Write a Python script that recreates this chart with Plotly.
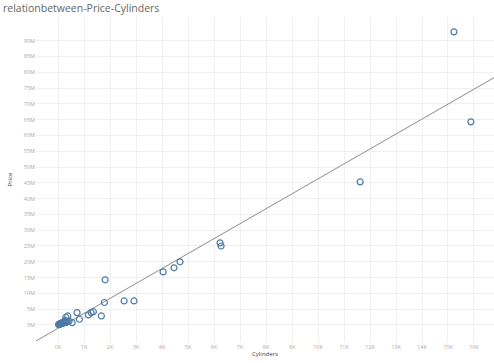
import numpy as np
import plotly.graph_objects as go

cylinders = [15230, 15880, 11620, 6230, 6270, 4690, 4460, 4040, 1810, 1780,
             2540, 2920, 1665, 1358, 1270, 1165, 730, 373, 296, 270, 820, 540,
             20, 40, 60, 90, 120, 150, 190, 230, 280, 350, 420, 80, 170, 300]
price_m = [92.8, 64.3, 45.3, 26.0, 25.0, 20.0, 18.1, 16.8, 14.3, 7.1,
           7.6, 7.6, 2.85, 4.2, 3.9, 3.17, 3.9, 2.85, 2.44, 1.36, 1.8, 0.73,
           0.1, 0.3, 0.2, 0.5, 0.6, 0.4, 0.8, 0.9, 1.1, 1.0, 1.2, 0.2, 0.5, 0.7]
price = [p * 1e6 for p in price_m]

x_ticks = list(range(0, 17000, 1000))
x_labels = [f"{v // 1000}K" for v in x_ticks]
y_ticks = [v * 1e6 for v in range(0, 95, 5)]
y_labels = [f"{v}M" for v in range(0, 95, 5)]

x_range = [-850, 16770]
y_range = [-5.4e6, 97.5e6]

slope, intercept = np.polyfit(cylinders, price, 1)
tx = np.array(x_range, dtype=float)
ty = slope * tx + intercept

fig = go.Figure()
fig.add_trace(go.Scatter(x=tx, y=ty, mode="lines",
                         line=dict(color="#8c8c8c", width=1), hoverinfo="skip"))
fig.add_trace(go.Scatter(x=cylinders, y=price, mode="markers",
                         marker=dict(symbol="circle-open", size=6, color="#4e79a7",
                                     line=dict(width=1.2, color="#4e79a7"))))

fig.update_layout(
    width=494, height=363,
    margin=dict(l=36, r=0, t=17, b=21),
    paper_bgcolor="white", plot_bgcolor="white",
    showlegend=False,
    font=dict(family="Open Sans", color="#999999"),
    title=dict(text="relationbetween-Price-Cylinders", x=0.006, xanchor="left",
               y=0.978, yanchor="middle",
               font=dict(size=10.5, color="#666666", family="Open Sans")),
)
fig.update_xaxes(range=x_range, tickvals=x_ticks, ticktext=x_labels,
                 tickfont=dict(size=5.5, color="#aaaaaa"),
                 showgrid=True, gridcolor="#f0f0f0", zeroline=False,
                 showline=False, ticks="",
                 title=dict(text="Cylinders", font=dict(size=6, color="#444444"), standoff=2))
fig.update_yaxes(range=y_range, tickvals=y_ticks, ticktext=y_labels,
                 tickfont=dict(size=5.5, color="#aaaaaa"),
                 showgrid=True, gridcolor="#f0f0f0", zeroline=False,
                 showline=False, ticks="",
                 title=dict(text="Price", font=dict(size=6, color="#444444"), standoff=10))

fig.write_html("out.html")
